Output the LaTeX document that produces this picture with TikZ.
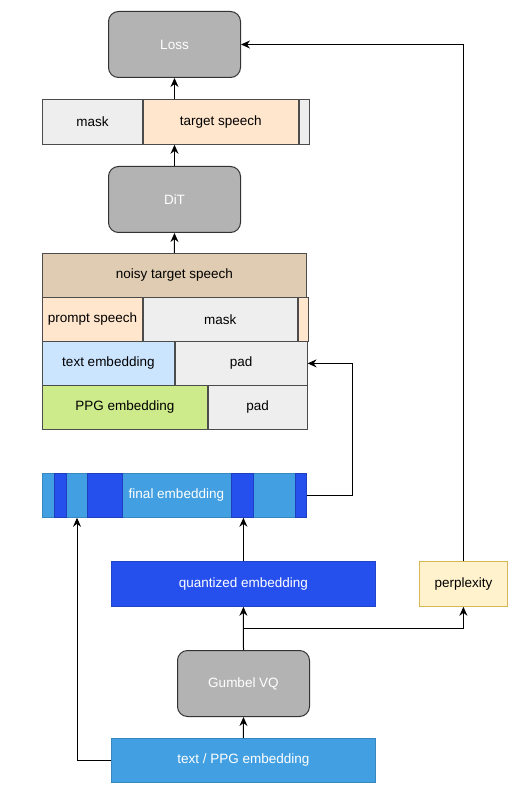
\documentclass[tikz,border=0pt]{standalone}
\usepackage{fontspec}
\setmainfont{Liberation Sans}
\usetikzlibrary{positioning,arrows.meta}

\definecolor{boxgray}{HTML}{B3B3B3}
\definecolor{maskgray}{HTML}{EEEEEE}
\definecolor{peach}{HTML}{FFE6CC}
\definecolor{tan}{HTML}{DFCCB2}
\definecolor{textblue}{HTML}{CCE5FF}
\definecolor{ppggreen}{HTML}{CDEB8B}
\definecolor{lightblue}{HTML}{42A0E2}
\definecolor{darkblue}{HTML}{2650EE}
\definecolor{perpfill}{HTML}{FFF2CC}
\definecolor{perpline}{HTML}{D6B656}

\begin{document}
\begin{tikzpicture}[x=1pt, y=-1pt,
    every node/.style={font=\fontsize{13.5}{16}\selectfont},
    block/.style={rounded corners=10pt, draw=black!80, line width=1pt, fill=boxgray,
        text=white, minimum width=132pt, minimum height=66pt, inner sep=0pt, anchor=north west},
    cell/.style={draw=black!70, line width=0.8pt, minimum height=44pt, inner sep=0pt, anchor=north west},
    bar/.style={line width=0.8pt, minimum height=44pt, inner sep=0pt, anchor=north west, text=white},
    stripe/.style={fill=darkblue, draw=darkblue!80!black, line width=0.6pt},
    arr/.style={-{Stealth[length=9pt, width=8pt, inset=3pt]}, line width=1pt}
]
\useasboundingbox (0,0) rectangle (517,791);

% Loss and DiT
\node[block] (loss) at (108,11) {Loss};
\node[block] (dit) at (108,166) {DiT};

% Target row
\node[cell, fill=maskgray, minimum width=100pt, minimum height=45pt] (mask1) at (42,99) {mask};
\node[cell, fill=peach, minimum width=155pt, minimum height=45pt, right=0pt of mask1] (target) {target speech};
\node[cell, fill=maskgray, minimum width=10pt, minimum height=45pt, right=0pt of target] (tail1) {};

% Input stack
\node[cell, fill=tan, minimum width=264pt] (noisy) at (42,253) {noisy target speech};
\node[cell, fill=peach, minimum width=100pt] (prompt) at (42,297) {prompt speech};
\node[cell, fill=maskgray, minimum width=154pt, right=0pt of prompt] (mask2) {mask};
\node[cell, fill=peach, minimum width=10pt, right=0pt of mask2] (tail2) {};
\node[cell, fill=textblue, minimum width=132pt] (textemb) at (42,341) {text embedding};
\node[cell, fill=maskgray, minimum width=132pt, right=0pt of textemb] (pad1) {pad};
\node[cell, fill=ppggreen, minimum width=165pt] (ppgemb) at (42,385) {PPG embedding};
\node[cell, fill=maskgray, minimum width=99pt, right=0pt of ppgemb] (pad2) {pad};

% Final embedding with quantized stripes
\node[bar, fill=lightblue, draw=lightblue!85!black, minimum width=264pt] (final) at (42,473) {};
\foreach \a/\b in {54/66, 87/122, 231/253, 295/306}
    \draw[stripe] (\a,473) rectangle (\b,517);
\node[text=white] at ([xshift=2pt]final.center) {final embedding};

% Lower part
\node[bar, fill=darkblue, draw=darkblue!85!black, minimum width=264pt, minimum height=45pt] (quant) at (111,561) {quantized embedding};
\node[cell, fill=perpfill, draw=perpline, minimum width=88pt, minimum height=45pt] (perp) at (419,561) {perplexity};
\node[block] (gvq) at (177,650) {Gumbel VQ};
\node[bar, fill=lightblue, draw=lightblue!85!black, minimum width=264pt] (tppg) at (111,738) {text / PPG embedding};
\coordinate (split) at (243,628);

% Connectors
\draw[arr] (tppg.north) -- (gvq.south);
\draw[arr] (gvq.north) -- (quant.south);
\draw[arr] (split) -| (perp.south);
\draw[arr] (quant.north) -- (quant.north |- final.south);
\draw[arr] (tppg.west) -| ([xshift=35pt]final.south west);
\draw[arr] (final.east) -- ++(46,0) |- (pad1.east);
\draw[arr] (noisy.north) -- (dit.south);
\draw[arr] (dit.north) -- (dit.north |- target.south);
\draw[arr] (target.north -| loss.south) -- (loss.south);
\draw[arr] (perp.north) |- (loss.east);

\end{tikzpicture}
\end{document}
